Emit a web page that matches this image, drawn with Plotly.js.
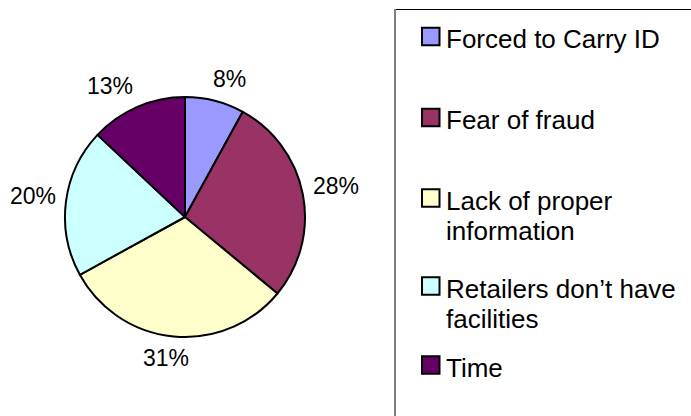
<!DOCTYPE html>
<html>
<head>
<meta charset="utf-8">
<script src="https://cdn.plot.ly/plotly-3.0.1.min.js"></script>
<style>html,body{margin:0;padding:0;background:#fff;}#chart{width:691px;height:416px;}</style>
</head>
<body>
<div id="chart"></div>
<script>
// ---- data ----
const labels = ['Forced to Carry ID', 'Fear of fraud', 'Lack of proper information', 'Retailers don\u2019t have facilities', 'Time'];
const values = [8, 28, 31, 20, 13];
const colors = ['#9999FF', '#993366', '#FFFFCC', '#CCFFFF', '#660066'];
const legendLines = [['Forced to Carry ID'], ['Fear of fraud'], ['Lack of proper', 'information'], ['Retailers don\u2019t have', 'facilities'], ['Time']];

// ---- layout helpers (pixel -> paper) ----
const W = 691, H = 416;
const px = x => x / W;
const py = y => 1 - y / H;
const FONT = 'Liberation Sans, Arial, sans-serif';

// pie geometry
const cx = 185, cy = 217, r = 120;

// legend layout
const rowY = [36.5, 117.5, 198, 286, 365];
const lineGap = 30;

const shapes = [
  {type: 'line', xref: 'paper', yref: 'paper', x0: px(394), x1: px(700), y0: py(9.5), y1: py(9.5), line: {color: '#000', width: 1}},
  {type: 'line', xref: 'paper', yref: 'paper', x0: px(395), x1: px(395), y0: py(9), y1: py(430), line: {color: '#808080', width: 2}}
];
const annotations = [];
labels.forEach((lab, i) => {
  const yc = rowY[i];
  shapes.push({type: 'rect', xref: 'paper', yref: 'paper', x0: px(422), x1: px(439.5), y0: py(yc - 8.75), y1: py(yc + 8.75),
    fillcolor: colors[i], line: {color: '#000', width: 2}});
  legendLines[i].forEach((t, j) => {
    annotations.push({xref: 'paper', yref: 'paper', x: px(444), y: py(yc + 2.5 + j * lineGap), xanchor: 'left', yanchor: 'middle',
      text: t, showarrow: false, font: {family: FONT, size: 26, color: '#000'}});
  });
});

// ---- percentage labels outside the pie, placed from the slice angles ----
const LBL = 23, gap = 10, hh = 12;
const total = values.reduce((a, b) => a + b, 0);
let cum = 0;
values.forEach(v => {
  const mid = (cum + v / 2) / total * 2 * Math.PI; // clockwise from 12 o'clock
  cum += v;
  const txt = Math.round(v / total * 100) + '%';
  const hw = 0.5 * LBL * ((txt.length - 1) * 0.556 + 0.889);
  const s = Math.sin(mid), c = Math.cos(mid);
  const clamp = t => Math.max(-1, Math.min(1, t));
  const x = cx + (r + gap) * s + hw * clamp(3 * s);
  const y = cy - (r + gap) * c - hh * clamp(3 * c);
  annotations.push({xref: 'paper', yref: 'paper', x: px(x), y: py(y), xanchor: 'center', yanchor: 'middle',
    text: txt, showarrow: false, font: {family: FONT, size: LBL, color: '#000'}});
});

const trace = {
  type: 'pie',
  labels: labels,
  values: values,
  sort: false,
  direction: 'clockwise',
  rotation: 0,
  marker: {colors: colors, line: {color: '#000', width: 2}},
  textinfo: 'none',
  hoverinfo: 'none',
  showlegend: false,
  domain: {x: [px(cx - r), px(cx + r)], y: [py(cy + r), py(cy - r)]}
};

const layout = {
  width: W, height: H,
  margin: {l: 0, r: 0, t: 0, b: 0},
  paper_bgcolor: '#fff',
  plot_bgcolor: '#fff',
  showlegend: false,
  font: {family: FONT},
  shapes: shapes,
  annotations: annotations
};

Plotly.newPlot('chart', [trace], layout, {staticPlot: true, displayModeBar: false});
</script>
</body>
</html>
